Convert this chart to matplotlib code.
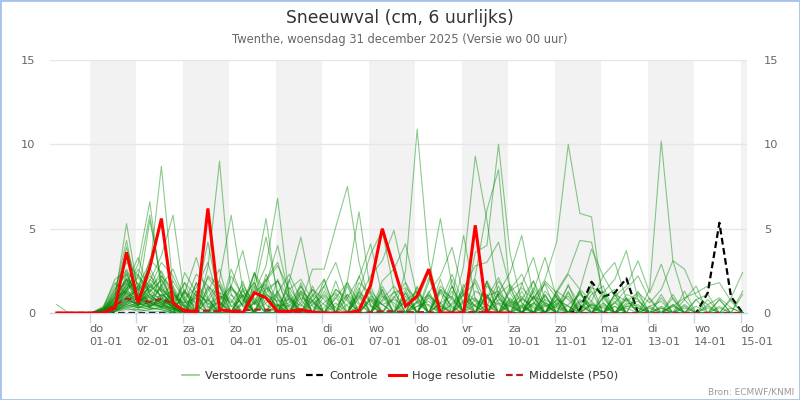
import matplotlib
matplotlib.use("Agg")
import matplotlib.pyplot as plt
import pandas as pd
from matplotlib.lines import Line2D
from matplotlib.patches import Rectangle

plt.rcParams['font.family'] = ['DejaVu Sans']

# ---------------- data ----------------
title = "Sneeuwval (cm, 6 uurlijks)"
subtitle = "Twenthe, woensdag 31 december 2025 (Versie wo 00 uur)"
source = "Bron: ECMWF/KNMI"

run_start_utc = "2025-12-31 06:00"   # first 6-hourly step (UTC)
n_steps = 60
utc_offset_hours = 1                   # shown in local time (CET)

tick_days = ["2026-01-01", "2026-01-02", "2026-01-03", "2026-01-04", "2026-01-05",
             "2026-01-06", "2026-01-07", "2026-01-08", "2026-01-09", "2026-01-10",
             "2026-01-11", "2026-01-12", "2026-01-13", "2026-01-14", "2026-01-15"]
tick_labels = ["do\n01-01", "vr\n02-01", "za\n03-01", "zo\n04-01", "ma\n05-01",
               "di\n06-01", "wo\n07-01", "do\n08-01", "vr\n09-01", "za\n10-01",
               "zo\n11-01", "ma\n12-01", "di\n13-01", "wo\n14-01", "do\n15-01"]
shaded_days = ["2026-01-01", "2026-01-03", "2026-01-05", "2026-01-07",
               "2026-01-09", "2026-01-11", "2026-01-13", "2026-01-15"]
y_ticks = [0, 5, 10, 15]

legend_labels = ["Verstoorde runs", "Controle", "Hoge resolutie", "Middelste (P50)"]

# Hoge resolutie (until 10-01 00 UTC)
hoge_resolutie = [0, 0, 0, 0, 0, 0.3, 3.6, 0.6, 2.7, 5.6,
                  0.6, 0.1, 0.1, 6.2, 0.2, 0.1, 0, 1.2, 0.9, 0.1,
                  0.1, 0.2, 0.05, 0, 0, 0, 0.15, 1.65, 5.0, 2.7,
                  0.4, 1.0, 2.6, 0, 0, 0, 5.2, 0, 0, 0]

controle = [0, 0, 0, 0, 0, 0, 0, 0, 0, 0,
            0, 0, 0, 0, 0, 0, 0, 0, 0, 0,
            0, 0, 0, 0, 0, 0, 0, 0, 0, 0,
            0, 0, 0, 0, 0, 0, 0, 0, 0, 0,
            0, 0, 0, 0, 0, 0.2, 1.85, 0.97, 1.2, 2.05,
            0, 0, 0, 0, 0, 0, 1.2, 5.35, 0.97, 0]

middelste_p50 = [0, 0, 0, 0, 0.05, 0.45, 0.85, 0.8, 0.65, 0.85,
                 0.55, 0.2, 0.1, 0.15, 0.1, 0.15, 0.15, 0.2, 0.2, 0.1,
                 0.05, 0.05, 0.05, 0, 0, 0, 0, 0.05, 0.1, 0.1,
                 0.05, 0.05, 0.05, 0, 0, 0.05, 0.05, 0.05, 0, 0,
                 0, 0, 0, 0, 0, 0, 0, 0, 0, 0,
                 0, 0, 0, 0, 0, 0, 0, 0, 0, 0]

# Verstoorde runs (perturbed ensemble members)
m01 = [0.5,0,0,0,0,0.9,5.3,1.2,0.4,0.8, 0.3,0,0,2.7,9.0,1.1,0,0,0,0.4, 0,0,0,0,0,0,0,0.8,0,0,
       0,0,0,1.4,0.3,0,0,0,0,0, 0,0,0,0,0,0,0,0.5,0,0, 0,0,0,0,0,0,0,0,0,0]
m02 = [0,0,0,0,0.1,0.6,1.4,2.9,6.6,1.3, 0.4,0,0,0,0,0,0.5,1.2,2.8,6.8, 0.9,0,0,0,0,0,0,0,0,0,
       2.5,10.9,3.1,0,0,0,0,0,0,0, 0,0,0.4,0,0,0,0,0,0,0, 0,0,0,0,0,0,0,0,0,0]
m03 = [0,0,0,0,0,0.4,1.1,0.7,2.6,8.7, 1.5,0,0,0,0,0,0.7,1.9,5.6,0.8, 0,0,0,0,0,0,0,0,0,0,
       0,0,0,0,0,2.8,9.3,5.5,0.9,0, 0,0,0,0,0,0,0,0,0,0, 0,0,0,0,0,0,0,0,0,0]
m04 = [0,0,0,0,0.1,0.7,2.0,0.8,1.9,3.4, 5.8,0.9,0,0,0,0,0,0,0,0.3, 0,0.6,2.6,2.6,5.1,7.5,3.0,0.4,0,0,
       0,0,0,0,0,0,3.6,4.0,10.0,3.5, 0.6,0,0,0,0,0,0,0,0,0, 0,0,0,0,0,0,0,0,0,0]
m05 = [0,0,0,0,0,0.3,1.3,2.2,5.8,1.6, 0.5,0,0,0,2.0,5.8,1.4,0,0,0, 0,0,0,0,0,0,0,0,0,0,
       0,0,0,0,0,0,0,0,0,0.6, 1.5,0.8,2.0,4.2,10.0,5.9,5.7,0.6,0,0, 0,0,0,0,0,0,0,0,0,0]
m06 = [0,0,0,0,0,0.5,2.3,1.0,5.5,2.0, 0.7,0,0.9,4.2,0.6,0,0,0,0,0, 0,0,0,0,0,1.9,6.0,1.2,0,0,
       0,0,0,0,0,0,0,0,0,0, 0,0,0,0,0,0,0,0,0,0, 0,1.4,10.2,3.1,0.8,0,0,0,0,0]
m07 = [0,0,0,0,0.3,1.2,4.3,0.7,1.1,0.9, 0.4,0,0,0,0,0,1.3,0.5,1.7,4.0, 1.0,0,0,0,0,0,0,0,0,0,
       0,0,1.8,5.6,1.6,0,2.2,6.1,8.5,1.2, 0,0,0,0,0,0,0,0,0,0, 0,0,0,0,0,0,0,0,0,0]
m08 = [0,0,0,0,0.2,1.0,3.9,1.5,0.6,1.1, 0.5,0,0,0,0.8,1.6,3.7,0.6,0,0, 1.9,4.5,1.0,0,0,0,0.9,2.2,3.1,4.9,
       1.8,0,0,0,0,0,0,0,0,0, 0,0,0,0,0,0,0,0,0,0, 0,0,0,0,0,0,0,0,0,0]
m09 = [0,0,0,0,0,0.4,0.9,1.6,3.0,5.5, 1.2,0.3,0,0,0,0,0,1.4,4.5,1.2, 0,0,0,0,0,0,1.3,3.5,4.9,1.4,
       0,0,0,0,0,0,0,0,1.2,2.4, 4.6,1.0,0,0,0,0,0,0,0,0, 0,0,0,0,0,0,0,0,0,0]
m10 = [0,0,0,0,0.1,0.6,1.7,3.3,1.1,0.5, 0.8,1.2,3.3,0.9,0,0,0,0,0,0, 0,0,0,0,0,0,0,0,1.9,2.6,
       4.1,1.0,0,1.4,0.9,4.6,0.8,0,0,0, 0,0,0,1.3,2.4,4.3,4.2,1.1,0,0, 0,0,0,0,0,0,0,0,0,0]
m11 = [0,0,0,0,0.2,0.8,2.1,1.0,0.4,1.7, 0.6,0,0,0.9,1.9,0.4,0,0,0,0, 0,0,0.7,1.6,3.0,0.8,0,0,0,0,
       0,0,1.2,2.2,3.9,1.0,0,0,0,0, 1.7,3.3,0.7,0,0,0,1.5,1.2,2.0,3.7, 0.8,0,0,0,0,0,0,0,0,0]
m12 = [0,0,0,0,0,0.2,0.8,0.5,1.6,1.0, 0.4,0.9,1.5,3.0,0.6,0,0,0,0,0, 0,0,0,0,1.4,0.9,2.1,4.1,1.0,0,
       0,0,0,0,0,1.5,2.8,3.0,4.2,1.5, 0,1.3,3.3,0.9,0,1.4,0.7,2.2,3.0,0.8, 0,0,0,0,0,0,0,0,0,0]
m13 = [0,0,0,0,0.1,0.5,1.2,0.8,2.0,1.3, 0.3,0,0,0,0.4,1.5,0.9,1.8,0.5,0, 0,0,0,0,0,0,0,0,0,0,
       0,0,0,0,0,0,0,0,0,0.5, 1.0,0,1.9,1.2,2.3,1.4,3.8,2.2,1.0,1.6, 3.1,1.2,2.9,0.8,0,0,0,0,0,0]
m14 = [0,0,0,0,0.2,0.7,1.5,0.4,1.0,0.6, 1.0,0.4,0,0,0,0,0,0,0,0, 0,0,0,0,0,0,0,0,0,0,
       0,0,0,0,0.6,1.3,0.4,0,0,0, 0,0,0,0,0,0,0,0,1.1,0.7, 1.2,0.6,1.4,3.1,2.6,1.0,0.5,0,0.9,2.4]
m15 = [0,0,0,0,0,0.3,0.8,0.5,1.3,1.9, 0.7,0,0,0,0,0,0,0,0,0, 0,0,0.5,1.1,0.3,0,0,0,0,0,
       0,0,0,0,0,0,0,0,0,0, 0,0,0.6,0.3,0,0,0,0,0,0, 0,0,0,0.4,0.9,1.2,1.6,1.8,0.7,0]
m16 = [0,0,0,0,0.1,0.4,1.0,0.3,0.7,0.5, 0.2,0,0,0,0,0,0.6,2.4,1.2,0.3, 0,0,0,0,0,0,0,0,0,0,
       0,0,0,0,0,0,0,0.9,2.1,0.6, 0,0,0,0,0,0,0,0,0,0, 0,0,0,0,0,0,0,0,0,0]
m17 = [0,0,0,0,0.3,1.6,3.0,2.2,1.3,2.5, 1.1,0.5,0,0,0,0,0,0.7,1.9,2.8, 1.4,2.0,0.7,0,0,0,0,0,0,0,
       0,0,0,0,0,0,0,0,0,0, 0,0.5,1.8,0.9,0,0,0,0,0,0, 0,0,0,0,0,0,0,0,0,0]
m18 = [0,0,0,0,0.2,1.0,2.6,1.3,2.4,0.8, 1.9,0.7,0,1.6,0.7,0,0,0,0,0, 0,0,0,0,0,0,0,0,0,0,
       0,0,0,0,0,0,0,1.6,1.0,0, 0.8,1.9,0.5,0,0,0,0,0,0,0, 0,0,0,0,0,0,0,0,0,0]
m19 = [0,0,0,0,0,0.5,1.9,0.7,3.2,2.4, 0.3,0,0,0,0,2.6,0.9,0,0,0, 0,0,0,0,0,0,0,0,1.6,0.4,
       0,0.7,2.4,0.5,0,0,0,0,0,1.4, 2.3,0.7,0,0,0,1.2,0.3,0,0,0, 0,0,0,0,0,0,0,0,0,0]
m20 = [0,0,0,0,0.1,1.4,2.3,0.9,0.3,1.1, 0.6,0,0,0,0,0,0,0,0,0, 0.9,0,0,0,0,0,0,0,0,0,
       0,0,0,0,0,0,0,0,1.2,0.5, 0,1.5,0.4,0.7,0,0,0.6,0,0,0.9, 0.3,0,0,0,0,0,0,0,0,0]
m21 = [0,0,0,0,0,0.1,0.6,1.6,0.9,0.4, 0.2,1.2,0.5,0,0,0,1.1,0,0,0, 0,0,0,0,0,0,0,0,0,0,
       0,0,0,0,0,0,0,0,0,0, 0.9,0.3,0,0.4,1.6,0.5,0,0,0,0, 0,0,0,0,0,0,0,0,0,0]
m22 = [0,0,0,0,0.2,0.7,1.4,2.6,1.5,3.0, 2.2,0.7,0,0,0,0,0,0.6,2.0,3.0, 0.7,0,0,0,0,0,0,0,0,0,
       1.0,0,0,0.6,2.3,0.5,0,1.9,0.6,0, 0,0,0,0,0,0,0,0,0,0, 0,0,0,0,0,0,0,0,0,0]
m23 = [0,0,0,0,0.1,1.2,1.8,0.6,1.7,0.9, 0.3,0,1.3,0.5,1.0,0,0,0,1.1,0.4, 0.6,1.6,0.4,0,0,0,0,0.9,0,0,
       0,0.7,0,1.3,0.4,0,2.0,0.5,0,0.8, 0.4,0,0,1.0,0,0.6,1.3,0,0.6,0, 0,0.4,0.7,0,0,0,0,0.4,0,0]
m24 = [0,0,0,0,0,0.2,0.7,0.3,0.5,0.4, 0,1.3,0,0,0,0,1.4,0,0,1.1, 0,0,0,0,0,1.8,0,0,0,0,
       1.2,0,0,0,0,0,0,0,1.6,0, 0,0,1.0,0,0,0,0,1.3,0,0, 0,0,0,0,0,0,0,0,0,0]
m25 = [0,0,0,0,0.2,0.9,1.3,2.1,1.1,1.5, 0.6,1.8,1.0,0.3,0.7,1.6,0.4,0.9,0,0.5, 0,1.2,0,0.3,1.4,0.7,0,0,0.8,1.6,
       0.7,0,1.0,0.4,0,1.4,0.7,0,1.1,1.7, 0.6,0,1.3,0.5,1.0,0,0,0.4,0,0.5, 0.7,0,0,0.5,0,0.4,0,0,0,0]
m26 = [0,0,0,0,0.1,0.3,1.0,0.4,1.4,0.7, 0.4,0.2,0,1.5,0,0,1.9,0,2.3,0.5, 0,1.8,0,2.0,0,0,2.2,0.5,0,0,
       1.2,0,2.1,0,1.6,0,0,1.9,0,0, 0.3,1.9,0,1.2,0,0,1.7,0,1.1,0, 0,0.9,0,0,0,0,0.8,0,0,0]
m27 = [0,0,0,0,0.3,2.0,2.5,0.5,0.8,0.3, 1.6,0.4,0,0,1.2,0,0,2.4,0,0, 1.1,0,0,0,0,0,1.5,0,0,0,
       0,1.5,0,0,0,1.2,0,0,0,0.9, 0,0.9,1.7,0,1.2,0,0,0,0.9,0, 0,0,0.9,0,0,0,0,0,0,0]
m28 = [0,0,0,0,0,0.6,1.3,1.0,2.2,1.4, 0.8,0.6,2.3,1.6,1.0,0.7,0,0.6,1.2,1.9, 0.9,0.4,1.4,0.8,0,0.5,1.0,0.4,0,0.9,
       1.8,0.6,0,1.6,0.8,0,1.3,0.9,0,0.7, 0,1.0,0.6,0,0,0.7,0,0.9,0,0.4, 0.5,0,0,0.4,0,0,0,0.3,0,0]
m29 = [0,0,0,0,0.2,0.5,1.7,1.2,0.6,2.2, 1.4,0.3,1.1,0.7,1.7,0.4,0.8,0,0.6,1.2, 2.3,0.8,0,0.6,1.2,0.4,0,0.8,0.5,0,
       0,0.4,0.7,0,0.5,1.1,0.4,0,0.6,0.4, 0.8,0.4,0,0.6,0,0.4,0.7,0,0,0.3, 0,0.4,0,0,0.5,0,0,0,0,0]
m30 = [0,0,0,0,0.1,0.4,1.2,0.8,0.9,0.6, 0.3,0,1.8,0.4,0,1.6,0.4,0,1.4,1.9, 0.3,0,1.4,0,1.9,0,1.1,0,1.4,0,
       1.4,0,0,1.2,0,1.7,0,1.1,0,1.6, 0,0,1.1,0,1.7,0,0,0.9,1.4,0, 1.1,0,0,0.9,0,0.8,1.1,0,0.8,0]
m31 = [0,0,0,0,0.3,1.4,2.4,1.7,0.6,1.6, 2.6,0.8,0.4,0,0.7,0,1.5,0.7,0,0, 0.5,0,0.8,0,0.6,0,0.9,0,0,0,
       0,0.4,0.5,0,0,0.7,0,0.5,0,0, 0.4,0,0,0.5,0,0,0,0,0.4,0, 0,0,0.3,0,0,0,0,0,0,0]
m32 = [0,0,0,0,0.1,0.8,1.6,2.3,1.2,2.0, 0.9,1.3,0.6,2.1,1.2,0.8,0,1.3,1.7,0.5, 0.4,1.3,0.7,0,0.9,1.8,0.6,0,0.7,1.2,
       1.5,0.8,0,0.6,1.0,0,0.8,0.4,1.9,0.7, 0.3,0,0.5,0,0,0.8,0.3,0,0.4,0, 0,0.3,0,0,0.3,0,0,0,0,0]
m33 = [0,0,0,0,0,0.1,0.5,0.3,0.7,0.3, 1.3,0,0,0.8,0,0,1.1,0,0.8,0, 0,1.1,0,0,0.9,0,0,0,1.2,0,
       0,0,0.9,0,0,0,0,0,0,0, 0,0.9,0,0,0,0,0,0,0,0.9, 0,0,0,0,0,0,0,0,0,0]
m34 = [0,0,0,0,0.2,1.1,2.0,1.4,2.7,1.2, 0.5,0,1.8,0.8,0,1.1,0.5,2.3,0.9,0.4, 1.5,0.5,0,1.0,0,0,1.2,0.7,0,0,
       0.7,1.3,0.4,0,0.9,0,0.5,1.0,0,0.4, 0,0.6,0,0.8,0.4,0,0.5,0,0.7,0, 0,0,0.4,0,0,0,0.3,0,0,0]
m35 = [0,0,0,0,0.1,0.5,0.9,1.4,0.5,0.8, 0.4,1.8,0,1.3,2.6,0,0,1.6,0,2.0, 0,1.6,0,1.3,0,1.6,0,0,1.4,0,
       0,1.6,0,2.0,0,1.1,1.8,0,1.1,0, 1.3,0,1.1,0,0,1.3,0,0,0,1.1, 0.8,0,0,1.1,0,0,0,0.8,0,0]
m36 = [0,0,0,0,0.4,1.8,1.1,0.5,1.1,0.6, 0,1.4,0,2.2,1.6,0,0,1.1,2.0,0, 2.0,0,1.6,0,1.1,0,1.8,1.1,0,1.3,
       0,0,1.3,0,2.0,0,0,1.8,0,1.3, 1.8,0,0,0,1.3,0,1.1,1.6,0,0, 1.3,0,0,0,0.8,1.6,0,0,0,1.1]
m37 = [0,0,0,0,0.1,0.6,1.3,0.4,1.8,1.0, 1.3,0,1.1,0,1.6,0,0,1.8,0,1.3, 0,1.3,0,1.6,0,1.1,0,1.6,0,0,
       0.8,0,1.1,0,1.3,0,0,1.1,0,0, 0,1.3,0,1.1,0,1.3,0,0,1.1,0, 0,0,1.1,0,1.3,0,0,0.8,0,1.3]
m38 = [0,0,0,0,0.2,0.9,2.0,0.9,1.5,2.2, 1.1,0.6,0.9,0,1.0,0.6,1.7,0.5,1.1,0.7, 0.8,0,1.1,0.5,0,0.9,0,1.0,0.5,0.8,
       0.4,0.9,0,0.6,0,0.8,0.4,0.9,0.5,0, 0.5,0,0.8,0.4,0,0.5,0,0.6,0,0.4, 0.3,0,0,0.5,0,0,0.4,0,0,0]
m39 = [0,0,0,0,0,0.3,0.6,1.1,0.4,0.8, 0,2.4,1.2,0,0,2.2,1.0,0,1.6,0, 1.3,0,1.0,2.0,0,0,1.3,0,0,1.0,
       0,1.3,0,0,1.6,0,0,1.0,1.3,0, 0,1.0,0,1.3,0.8,0,0,1.0,0,0.8, 0,0,0,0,0,0.8,0,0,0,0]
m40 = [0,0,0,0,0.1,0.4,1.5,1.8,0.9,1.4, 0.7,0.4,1.3,0.6,0,1.4,0.8,0,1.5,0.9, 0,0.9,0.6,0,0.4,1.1,0.5,0,1.0,0.6,
       0,0.6,1.1,0.4,0,0.6,0.9,0,0.8,0.4, 0,0.6,0,0.8,0.4,0,0.5,0.3,0,0.6, 0.4,0,0.3,0,0.4,0,0,0,0.3,0]
m41 = [0,0,0,0,0,0.2,0.5,0.3,0.4,0.6, 0.2,0,0,0,0,0,0,0,0,0, 0,0,0,0,0,0,0,0,0,0,
       0,0,0,0,0,0,0,0,0,0, 0,0,0,0,0,0,0,0,0,0, 0,0,0,0,0,0,0,0,0,0]
m42 = [0,0,0,0,0.1,0.3,0.7,0.6,0.3,0.5, 0.3,0,0,0,0,0,0,0,0,0, 0,0,0,0,0,0,0.4,1.3,0.5,0,
       0,0,0,0,0,0,0,0,0,0, 0,0,0,0,0,0,0,0,0,0, 0,0,0,0,0,0,0,0,0,0]
m43 = [0,0,0,0,0,0.2,0.4,0.2,0.3,0.2, 0,0,0,0,0,0,0,0,0,0, 0,0,0,0,0,0,0,0,0,0,
       0,0,0,0,0,0,0,0,0,0, 0,0,0,0,0,0,0,0,0.6,1.4, 2.2,0.8,0,0,0,0,0,0,0,0]
m44 = [0,0,0,0,0,0.1,0.3,0.1,0.2,0.3, 0.1,0,0,0,0,0,0,0,0,0, 0,0,0,0,0,0,0,0,0,0,
       0,0,0,0,0,0,0,0,0,0, 0,0,0,0,0,0,0,0,0,0, 0,0,0,0,0,0,0,0,0,0]
m45 = [0,0,0,0,0,0.3,0.6,0.4,0.2,0.4, 0.2,0,0,0,0,0,0,0,0,0, 0,0,0,0,0,0,0,0,0,0,
       0,0,0,0,0,0,0,0,0,0, 0,0,0,0,0.5,1.1,0.4,0,0,0, 0,0,0,0,0,0,0,0,0,0]
m46 = [0,0,0,0,0.1,0.4,0.8,0.5,0.6,0.3, 0.1,0,0,0,0,0,0,0,0,0, 0,0,0,0,0,0,0,0,0,0,
       0,0,0,0,0,0,0,0,0,0, 0,0,0,0,0,0,0,0,0,0, 0,0,0,0,0,0,0.5,0.9,0.3,0]
m47 = [0,0,0,0,0,0.1,0.2,0.2,0.1,0.1, 0,0,0,0,0,0,0,0,0,0, 0,0,0,0,0,0,0,0,0,0,
       0,0,0,0,0,0,0,0,0,0, 0,0,0,0,0,0,0,0,0,0, 0,0,0,0,0,0,0,0,0,0]
m48 = [0,0,0,0,0,0.2,0.5,0.9,0.4,0.7, 0.4,0,0,0,0,0,0,0,0,0, 0,0,0,0,0,0,0,0,0,0,
       0,0,0,0,0,0,0,0,0,0, 0,0,0,0,0,0,0,0,0,0, 0,0,0,0,0,0,0,0,0,0]
m49 = [0,0,0,0,0,0.1,0.4,0.6,0.3,0.2, 0,0,0,0,0,0,0,0,0,0, 0,0,0,0,0,0,0,0,0,0,
       0,0,0,0,0,0,0,0,0,0, 0,0,0,0,0,0,0,0,0,0, 0,0,0,0,0,0,0,0,0,0]
m50 = [0,0,0,0,0,0.2,0.3,0.5,0.6,0.4, 0.3,0,0,0,0,0,0,0,0,0, 0,0,0,0,0,0,0,0,0,0,
       0,0,0,0,0,0,0,0,0,0, 0,0,0,0,0,0,0,0,0,0, 0,0,0,0,0,0,0,0,0,0]

verstoorde_runs = [m01, m02, m03, m04, m05, m06, m07, m08, m09, m10,
                   m11, m12, m13, m14, m15, m16, m17, m18, m19, m20,
                   m21, m22, m23, m24, m25, m26, m27, m28, m29, m30,
                   m31, m32, m33, m34, m35, m36, m37, m38, m39, m40,
                   m41, m42, m43, m44, m45, m46, m47, m48, m49, m50]

# ---------------- styles ----------------
GREEN = '#008a00'
HR_RED = '#ff0000'
P50_RED = '#b22222'
GRID = '#e6e6e6'
AXIS = '#ccd6eb'
BAND = '#f2f2f2'
TXT = '#666666'

times = pd.date_range(run_start_utc, periods=n_steps, freq="6h") + pd.Timedelta(hours=utc_offset_hours)

fig = plt.figure(figsize=(8, 4), dpi=100)
ax = fig.add_axes([50 / 800, 87 / 400, 697 / 800, 253 / 400])

for d in shaded_days:
    d0 = pd.Timestamp(d)
    ax.axvspan(d0, d0 + pd.Timedelta(days=1), color=BAND, lw=0, zorder=0.1)

ax.plot(times[:len(controle)], controle, color='black', lw=1.6,
        dashes=(3, 1.6), zorder=1.5)
for run in verstoorde_runs:
    ax.plot(times[:len(run)], run, color=GREEN, alpha=0.45, lw=0.8, zorder=2)

ax.plot(times[:len(middelste_p50)], middelste_p50, color=P50_RED, lw=1.6,
        dashes=(3, 1.6), zorder=3)
ax.plot(times[:len(hoge_resolutie)], hoge_resolutie, color=HR_RED, lw=2.2,
        zorder=5, solid_joinstyle='miter')

xlim = (pd.Timestamp("2025-12-31 03:30"), pd.Timestamp("2026-01-15 03:15"))
ax.set_xlim(*xlim)
ax.set_ylim(0, 15)

ax.set_yticks(y_ticks)
ax.set_yticklabels([str(v) for v in y_ticks])
ax.yaxis.grid(True, color=GRID, lw=1)
ax.set_axisbelow(True)
ax.tick_params(axis='y', length=0, pad=10.5, labelcolor=TXT, labelsize=8.2)

ax2 = ax.twinx()
ax2.set_ylim(0, 15)
ax2.set_yticks(y_ticks)
ax2.set_yticklabels([str(v) for v in y_ticks])
ax2.tick_params(axis='y', length=0, pad=12, labelcolor=TXT, labelsize=8.2)
for s in ax2.spines.values():
    s.set_visible(False)

ax.set_xticks([pd.Timestamp(d) for d in tick_days])
ax.set_xticklabels(tick_labels, ha='left', color=TXT, fontsize=8.2, linespacing=1.35)
ax.tick_params(axis='x', length=7.2, width=1, color=AXIS, pad=1)

for s in ['top', 'left', 'right']:
    ax.spines[s].set_visible(False)
ax.spines['bottom'].set_color(AXIS)
ax.spines['bottom'].set_linewidth(1)

fig.text(0.5, 1 - 18 / 400, title, ha='center', va='center', fontsize=12.3, color='#333333')
fig.text(0.5, 1 - 40 / 400, subtitle, ha='center', va='center', fontsize=8.3, color=TXT)

handles = [Line2D([], [], color=GREEN, alpha=0.45, lw=1.2),
           Line2D([], [], color='black', lw=1.6, dashes=(3, 1.6)),
           Line2D([], [], color=HR_RED, lw=2.2),
           Line2D([], [], color=P50_RED, lw=1.6, dashes=(3, 1.6))]
fig.legend(handles, legend_labels, loc='center', bbox_to_anchor=(0.5, 1 - 376 / 400),
           ncol=4, frameon=False, fontsize=8.2, handlelength=1.5, handletextpad=0.5,
           columnspacing=1.0, labelcolor='#333333')

fig.text(1 - 6 / 800, 1 - 392 / 400, source, ha='right', va='center', fontsize=6.5, color='#999999')

fig.patches.append(Rectangle((0, 0), 1, 1, transform=fig.transFigure, fill=False,
                             edgecolor='#a6c3ea', lw=2, zorder=10))

fig.savefig("out.png", dpi=100)
